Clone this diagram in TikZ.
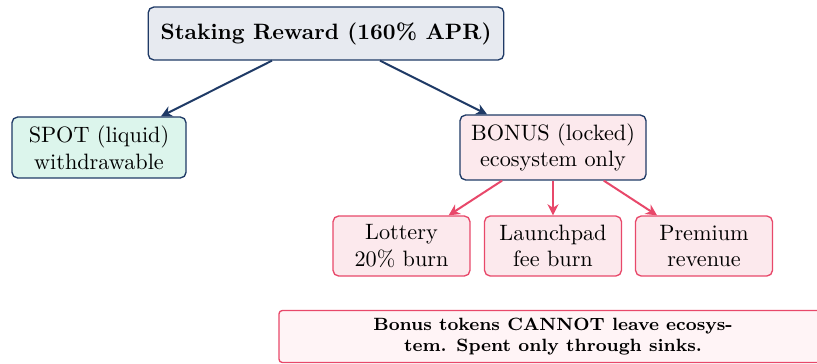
\documentclass[tikz,border=0pt]{standalone}
\usetikzlibrary{arrows.meta}
\definecolor{navy}{HTML}{1F3A66}
\definecolor{topfill}{HTML}{E7EAF0}
\definecolor{spotfill}{HTML}{DCF5EC}
\definecolor{pinkfill}{HTML}{FCE9ED}
\definecolor{rosered}{HTML}{E8486A}
\definecolor{notefill}{HTML}{FFF4F6}
\begin{document}
\begin{tikzpicture}[x=0.45pt,y=-0.45pt,
  box/.style={draw, rounded corners=2.5pt, line width=0.6pt, align=center, inner sep=0pt},
  navybox/.style={box, draw=navy},
  sinkbox/.style={box, draw=rosered, fill=pinkfill, minimum width=61.6pt, minimum height=27pt},
  navyarrow/.style={draw=navy, line width=0.9pt, -{Stealth[length=5pt,width=5pt,inset=1.6pt]}},
  redarrow/.style={draw=rosered, line width=0.9pt, -{Stealth[length=5pt,width=5pt,inset=1.6pt]}}]
\useasboundingbox (0,0) rectangle (817,363);
\node[navybox, fill=topfill, minimum width=160pt, minimum height=23.8pt, font=\bfseries] (top) at (326,33.5) {Staking Reward (160\% APR)};
\node[navybox, fill=spotfill, minimum width=78.3pt, minimum height=27.4pt] (spot) at (99,147.5) {SPOT (liquid)\\withdrawable};
\node[navybox, fill=pinkfill, minimum width=83.7pt, minimum height=29.2pt] (bonus) at (553,147.5) {BONUS (locked)\\ecosystem only};
\node[sinkbox] (lottery) at (401.5,246) {Lottery\\20\% burn};
\node[sinkbox] (launch) at (553,246) {Launchpad\\fee burn};
\node[sinkbox] (premium) at (704,246) {Premium\\revenue};
\node[box, draw=rosered, fill=notefill, rounded corners=1.5pt, minimum width=246.6pt, minimum height=23.4pt, font=\footnotesize\bfseries] (note) at (553,336.5) {Bonus tokens CANNOT leave ecosys-\\tem. Spent only through sinks.};
\draw[navyarrow] (top) -- (spot);
\draw[navyarrow] (top) -- (bonus);
\draw[redarrow] (bonus) -- (lottery);
\draw[redarrow] (bonus) -- (launch);
\draw[redarrow] (bonus) -- (premium);
\end{tikzpicture}
\end{document}
